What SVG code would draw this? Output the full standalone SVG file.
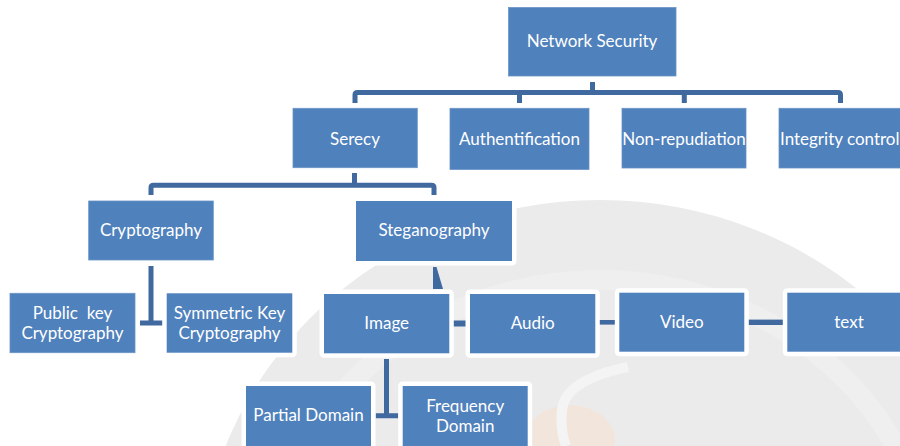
<svg xmlns="http://www.w3.org/2000/svg" width="900" height="446" viewBox="0 0 900 446">
<style>
.b{fill:#4f81bd;stroke:#6a94c8;stroke-width:0.8}
.w{fill:#4f81bd;stroke:#ffffff;stroke-width:9;stroke-linejoin:round;paint-order:stroke}
.t{font-family:Lato,"Liberation Sans",sans-serif;font-size:17px;fill:#ffffff;text-anchor:middle;white-space:pre}
.c{fill:none;stroke:#40699f;stroke-width:5}
.cf{fill:#40699f}
</style>
<rect width="900" height="446" fill="#ffffff"/>
<g id="watermark">
<ellipse cx="600" cy="580" rx="400" ry="380" fill="#ebebeb"/>
<ellipse cx="600" cy="580" rx="330" ry="300" fill="none" stroke="#efefef" stroke-width="20"/>
<ellipse cx="570" cy="440" rx="45" ry="35" fill="#f3e4d8" opacity="0.8"/>
<path d="M628 367 Q565 380 562 410 Q560 430 566 446" fill="none" stroke="#f4f4f4" stroke-width="10"/>
</g>
<g id="connectors">
<path class="c" d="M592.5 82 V92.5"/>
<path class="c" d="M355 103 V95 Q355 92.5 357.5 92.5 H838 Q840.5 92.5 840.5 95 V103"/>
<path class="c" d="M519.5 92.5 V103 M684.3 92.5 V103"/>
<path class="c" d="M354.5 173 V185.3"/>
<path class="c" d="M151 195 V187.8 Q151 185.3 153.5 185.3 H431.5 Q434 185.3 434 187.8 V195"/>
<path class="c" d="M151 266 V323 M140 323 H163.3"/>
<polygon class="cf" points="433,267 436.5,267 443,289 433,289"/>
<rect class="cf" x="449" y="320.5" width="21" height="6"/>
<rect class="cf" x="595" y="320" width="24" height="4.6"/>
<rect class="cf" x="744" y="319.6" width="43" height="5.4"/>
<path class="c" d="M386.5 359 V415.8 M375.7 415.8 H398.3"/>
</g>
<g id="network-security"><rect class="b" x="508.5" y="7.5" width="167.5" height="68.5"/><text class="t" x="592" y="47">Network Security</text></g>
<g id="serecy"><rect class="b" x="293" y="108.3" width="124.3" height="59.4"/><text class="t" x="355" y="144.5">Serecy</text></g>
<g id="authentification"><rect class="b" x="450" y="108.3" width="139" height="61.2"/><text class="t" x="519.5" y="144.7">Authentification</text></g>
<g id="non-repudiation"><rect class="b" x="622" y="108.3" width="124" height="59.7"/><text class="t" x="684" y="144.7">Non-repudiation</text></g>
<g id="integrity-control"><rect class="b" x="779" y="108.3" width="124" height="59.7"/><text class="t" x="780" y="144.7" style="text-anchor:start">Integrity control</text></g>
<g id="cryptography"><rect class="b" x="88.7" y="201" width="124.6" height="59"/><text class="t" x="151" y="235.5">Cryptography</text></g>
<g id="steganography"><rect class="w" x="356" y="201" width="156" height="60"/><text class="t" x="434" y="235.5">Steganography</text></g>
<g id="public-key"><rect class="b" x="10" y="293.3" width="125" height="59.4"/><text class="t" x="72.5" y="318.7">Public  key</text><text class="t" x="72.5" y="338.7">Cryptography</text></g>
<g id="symmetric-key"><rect class="w" x="166.7" y="293.3" width="125.6" height="59.4"/><text class="t" x="229.5" y="318.7">Symmetric Key</text><text class="t" x="229.5" y="338.7">Cryptography</text></g>
<g id="image"><rect class="w" x="324" y="294" width="125.3" height="59.3"/><text class="t" x="386.7" y="328.7">Image</text></g>
<g id="audio"><rect class="w" x="470" y="294" width="125.3" height="59.3"/><text class="t" x="532.7" y="328.7">Audio</text></g>
<g id="video"><rect class="w" x="619.3" y="292.7" width="125" height="59"/><text class="t" x="681.8" y="328">Video</text></g>
<g id="text"><rect class="w" x="787.3" y="292.7" width="124" height="59"/><text class="t" x="849" y="328">text</text></g>
<g id="partial-domain"><rect class="w" x="246" y="386" width="125" height="62"/><text class="t" x="308.5" y="420.5">Partial Domain</text></g>
<g id="frequency-domain"><rect class="w" x="402.7" y="386" width="125" height="62"/><text class="t" x="465.2" y="411.7">Frequency</text><text class="t" x="465.2" y="432">Domain</text></g>
</svg>
